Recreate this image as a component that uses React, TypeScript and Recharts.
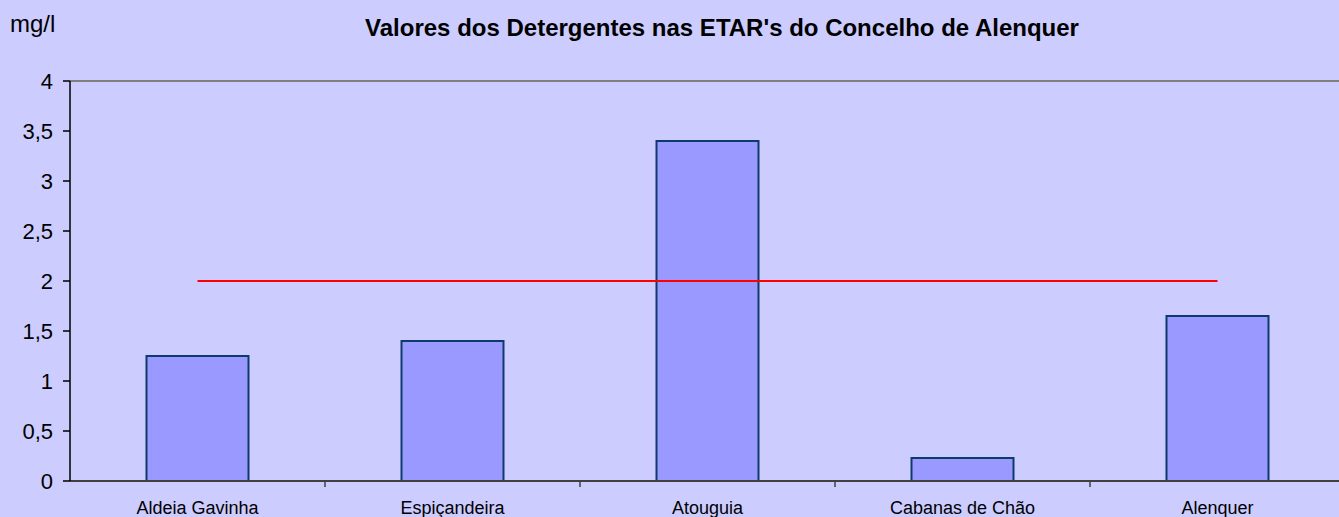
import { ComposedChart, Bar, Line, XAxis, YAxis, ReferenceLine } from 'recharts';

const stations = ['Aldeia Gavinha', 'Espiçandeira', 'Atouguia', 'Cabanas de Chão', 'Alenquer'];
const detergentValues = [1.25, 1.4, 3.4, 0.23, 1.65];
const limitValues = [2, 2, 2, 2, 2];
const yTicks = [0, 0.5, 1, 1.5, 2, 2.5, 3, 3.5, 4];

const data = stations.map((name, i) => ({
    name,
    value: detergentValues[i],
    limit: limitValues[i],
}));

const FONT = '"Liberation Sans", Arial, sans-serif';

function CategoryTick(props: any) {
    const { x, y, payload, width, visibleTicksCount, index } = props;
    const half = width / visibleTicksCount / 2;
    return (
        <g>
            {index < visibleTicksCount - 1 && (
                <line x1={x + half} x2={x + half} y1={y - 8} y2={y - 2} stroke="#404040" strokeWidth={1.5} />
            )}
            <text x={x} y={y + 25} textAnchor="middle" fontSize={18} fill="#000" fontFamily={FONT}>
                {payload.value}
            </text>
        </g>
    );
}

function yFormat(v: number) {
    return String(v).replace('.', ',');
}

export default function App() {
    return (
        <div
            style={{
                position: 'absolute',
                left: 0,
                top: 0,
                width: 1339,
                height: 517,
                overflow: 'hidden',
                background: '#CCCCFF',
                fontFamily: FONT,
            }}
        >
            <ComposedChart
                width={1345}
                height={517}
                data={data}
                margin={{ top: 81, right: 0, bottom: 0, left: 10 }}
                barCategoryGap="30%"
                style={{ position: 'absolute', left: 0, top: 0 }}
            >
                <text x={10} y={32} fontSize={24} fill="#000" fontFamily={FONT}>
                    mg/l
                </text>
                <text x={722} y={36} textAnchor="middle" fontSize={24} fontWeight="bold" fill="#000" fontFamily={FONT}>
                    Valores dos Detergentes nas ETAR's do Concelho de Alenquer
                </text>
                <ReferenceLine y={4} stroke="#808080" strokeWidth={2} />
                <XAxis
                    dataKey="name"
                    height={36}
                    interval={0}
                    tickLine={false}
                    axisLine={{ stroke: '#404040', strokeWidth: 2 }}
                    tick={<CategoryTick />}
                />
                <YAxis
                    width={60}
                    domain={[0, 4]}
                    ticks={yTicks}
                    interval={0}
                    tickFormatter={yFormat}
                    tickSize={7}
                    tickMargin={10}
                    axisLine={{ stroke: '#000', strokeWidth: 1.5 }}
                    tickLine={{ stroke: '#000', strokeWidth: 1.5 }}
                    tick={{ fontSize: 22, fill: '#000', fontFamily: FONT }}
                />
                <Bar dataKey="value" fill="#9999FF" stroke="#0C3A6B" strokeWidth={2} isAnimationActive={false} />
                <Line
                    dataKey="limit"
                    type="linear"
                    stroke="#FF0000"
                    strokeWidth={2}
                    dot={false}
                    activeDot={false}
                    isAnimationActive={false}
                />
            </ComposedChart>
        </div>
    );
}
